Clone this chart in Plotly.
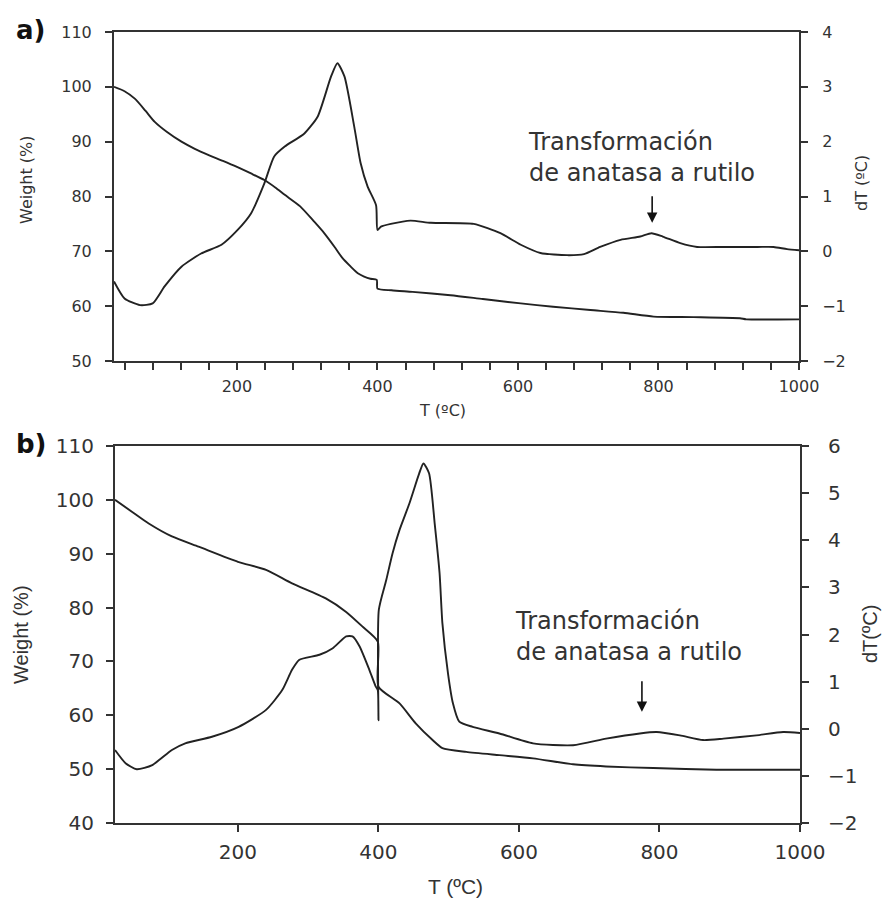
import plotly.graph_objects as go

# ---------------- Panel a) ----------------
Ta_w = [25, 40, 55, 70, 83, 100, 121, 140, 159, 180, 200, 220, 239, 255, 268, 290, 310, 325,
        339, 350, 362, 372, 381, 390, 399, 400, 420, 450, 504, 550, 604, 650, 703, 750, 793,
        850, 916, 925, 1000]
Wa = [100.0, 99.2, 97.8, 95.6, 93.6, 91.8, 90.0, 88.7, 87.6, 86.5, 85.4, 84.2, 83.0, 81.6, 80.3,
      78.2, 75.4, 73.2, 70.8, 68.8, 67.2, 66.0, 65.4, 65.0, 64.8, 63.2, 62.9, 62.6, 62.0, 61.3,
      60.5, 59.9, 59.3, 58.8, 58.1, 58.0, 57.8, 57.6, 57.6]

Ta_d = [25, 40, 62, 80, 97, 121, 149, 178, 201, 220, 239, 253, 268, 296, 315, 334, 343, 353,
        367, 376, 386, 398, 400, 405, 419, 447, 476, 537, 575, 604, 632, 670, 694, 717, 746,
        774, 790, 806, 831, 855, 893, 941, 964, 983, 1000]
Da = [-0.55, -0.86, -0.98, -0.95, -0.64, -0.28, -0.04, 0.12, 0.39, 0.69, 1.24, 1.73, 1.91, 2.15,
      2.46, 3.19, 3.43, 3.19, 2.27, 1.61, 1.18, 0.84, 0.39, 0.45, 0.50, 0.56, 0.52, 0.50, 0.33,
      0.12, -0.03, -0.07, -0.05, 0.08, 0.21, 0.27, 0.33, 0.27, 0.15, 0.08, 0.08, 0.08, 0.08,
      0.04, 0.02]

# ---------------- Panel b) ----------------
Tb_w = [25, 49, 73, 106, 144, 200, 240, 277, 325, 354, 377, 399, 400, 430, 453, 477, 491, 525,
        572, 620, 677, 724, 791, 881, 1000]
Wb = [100.0, 97.8, 95.6, 93.2, 91.3, 88.5, 87.0, 84.5, 81.7, 79.2, 76.5, 73.7, 65.3, 62.2, 58.5,
      55.4, 53.9, 53.2, 52.6, 52.0, 50.9, 50.5, 50.2, 49.9, 49.9]

Tb_d = [25, 40, 56, 78, 106, 125, 163, 201, 240, 263, 277, 287, 316, 335, 354, 363, 373, 387,
        396, 399, 400, 400.5, 411, 420, 430, 444, 458, 464, 472, 480, 487, 491, 499, 506, 515,
        534, 572, 620, 677, 724, 772, 796, 829, 862, 891, 938, 976, 1000]
Db = [-0.45, -0.73, -0.86, -0.77, -0.45, -0.31, -0.17, 0.04, 0.40, 0.82, 1.25, 1.46, 1.57, 1.71,
      1.96, 1.96, 1.75, 1.25, 0.90, 0.82, 0.18, 2.52, 3.15, 3.72, 4.22, 4.78, 5.42, 5.63, 5.42,
      4.36, 3.30, 2.24, 1.17, 0.54, 0.15, 0.04, -0.10, -0.31, -0.35, -0.21, -0.10, -0.07,
      -0.14, -0.24, -0.21, -0.14, -0.07, -0.09]

ANNOT_TEXT = "Transformación<br>de anatasa a rutilo"

W, H = 893, 899
LINE = "#222222"
AX = "#333333"

fig = go.Figure()
lstyle = dict(color=LINE, width=1.9, shape="spline", smoothing=0.6)
fig.add_trace(go.Scatter(x=Ta_w, y=Wa, mode="lines", line=lstyle, xaxis="x", yaxis="y", showlegend=False))
fig.add_trace(go.Scatter(x=Ta_d, y=Da, mode="lines", line=lstyle, xaxis="x", yaxis="y2", showlegend=False))
fig.add_trace(go.Scatter(x=Tb_w, y=Wb, mode="lines", line=lstyle, xaxis="x2", yaxis="y3", showlegend=False))
fig.add_trace(go.Scatter(x=Tb_d, y=Db, mode="lines", line=lstyle, xaxis="x2", yaxis="y4", showlegend=False))

def px_x(p):
    return p / W

def px_y(p):
    return 1 - p / H

top_font = dict(family="DejaVu Sans", size=16, color=AX)
bot_font = dict(family="DejaVu Sans", size=20, color=AX)

common = dict(showline=True, linecolor=AX, linewidth=2, ticks="outside", ticklen=7,
              tickwidth=1.5, tickcolor=AX, showgrid=False, zeroline=False, automargin=False)

fig.update_layout(
    width=W, height=H,
    margin=dict(l=0, r=0, t=0, b=0, pad=0, autoexpand=False),
    paper_bgcolor="white", plot_bgcolor="white",
    xaxis=dict(domain=[px_x(114), px_x(799)], anchor="y", range=[25, 1000], dtick=200, tick0=0,
               mirror=True, tickfont=top_font, ticklabelstandoff=3,
               minor=dict(dtick=40, tick0=0, ticks="outside", ticklen=7, tickcolor=AX,
                          tickwidth=1.5, showgrid=False),
               **common),
    yaxis=dict(domain=[px_y(361), px_y(32)], anchor="x", range=[50, 110], dtick=10,
               tickfont=top_font, ticklabelstandoff=10, **common),
    yaxis2=dict(overlaying="y", side="right", anchor="x", range=[-2, 4], dtick=1,
                tickfont=top_font, ticklabelstandoff=11, **common),
    xaxis2=dict(domain=[px_x(115), px_x(800)], anchor="y3", range=[25, 1000], dtick=200, tick0=0,
                mirror=True, tickfont=bot_font, ticklabelstandoff=3, **common),
    yaxis3=dict(domain=[px_y(823), px_y(446)], anchor="x2", range=[40, 110], dtick=10,
                tickfont=bot_font, ticklabelstandoff=8, **common),
    yaxis4=dict(overlaying="y3", side="right", anchor="x2", range=[-2, 6], dtick=1,
                tickfont=bot_font, ticklabelstandoff=15, **common),
)

ann = []
# panel labels
ann.append(dict(text="<b>a)</b>", x=px_x(14), y=px_y(30), xref="paper", yref="paper",
                xanchor="left", yanchor="middle", showarrow=False,
                font=dict(family="DejaVu Sans", size=26, color="#111")))
ann.append(dict(text="<b>b)</b>", x=px_x(14), y=px_y(444), xref="paper", yref="paper",
                xanchor="left", yanchor="middle", showarrow=False,
                font=dict(family="DejaVu Sans", size=26, color="#111")))
# axis titles panel a
ann.append(dict(text="Weight (%)", x=px_x(26), y=px_y(180), xref="paper", yref="paper",
                textangle=-90, showarrow=False, xanchor="center", yanchor="middle",
                font=dict(family="DejaVu Sans", size=16, color=AX)))
ann.append(dict(text="dT (ºC)", x=px_x(862), y=px_y(183), xref="paper", yref="paper",
                textangle=-90, showarrow=False, xanchor="center", yanchor="middle",
                font=dict(family="DejaVu Sans", size=16, color=AX)))
ann.append(dict(text="T (ºC)", x=px_x(442), y=px_y(411), xref="paper", yref="paper",
                showarrow=False, xanchor="center", yanchor="middle",
                font=dict(family="DejaVu Sans", size=16, color=AX)))
# axis titles panel b
ann.append(dict(text="Weight (%)", x=px_x(21), y=px_y(635), xref="paper", yref="paper",
                textangle=-90, showarrow=False, xanchor="center", yanchor="middle",
                font=dict(family="Liberation Sans", size=20, color=AX)))
ann.append(dict(text="dT(ºC)", x=px_x(870), y=px_y(634), xref="paper", yref="paper",
                textangle=-90, showarrow=False, xanchor="center", yanchor="middle",
                font=dict(family="Liberation Sans", size=20, color=AX)))
ann.append(dict(text="T (ºC)", x=px_x(456), y=px_y(886), xref="paper", yref="paper",
                showarrow=False, xanchor="center", yanchor="middle",
                font=dict(family="Liberation Sans", size=21, color=AX)))
# annotation texts
ann.append(dict(text=ANNOT_TEXT, x=612, y=1.72, xref="x", yref="y2", align="left",
                xanchor="left", yanchor="middle", showarrow=False,
                font=dict(family="DejaVu Sans", size=24, color=AX)))
ann.append(dict(text=ANNOT_TEXT, x=592, y=1.95, xref="x2", yref="y4", align="left",
                xanchor="left", yanchor="middle", showarrow=False,
                font=dict(family="DejaVu Sans", size=24, color=AX)))
# arrows
ann.append(dict(text="", x=791, y=0.52, xref="x", yref="y2", showarrow=True, ax=0, ay=-28,
                arrowhead=2, arrowsize=1.3, arrowwidth=1.6, arrowcolor="#111"))
ann.append(dict(text="", x=775, y=0.36, xref="x2", yref="y4", showarrow=True, ax=0, ay=-32,
                arrowhead=2, arrowsize=1.3, arrowwidth=1.6, arrowcolor="#111"))
fig.update_layout(annotations=ann)

fig.write_html("out.html")
